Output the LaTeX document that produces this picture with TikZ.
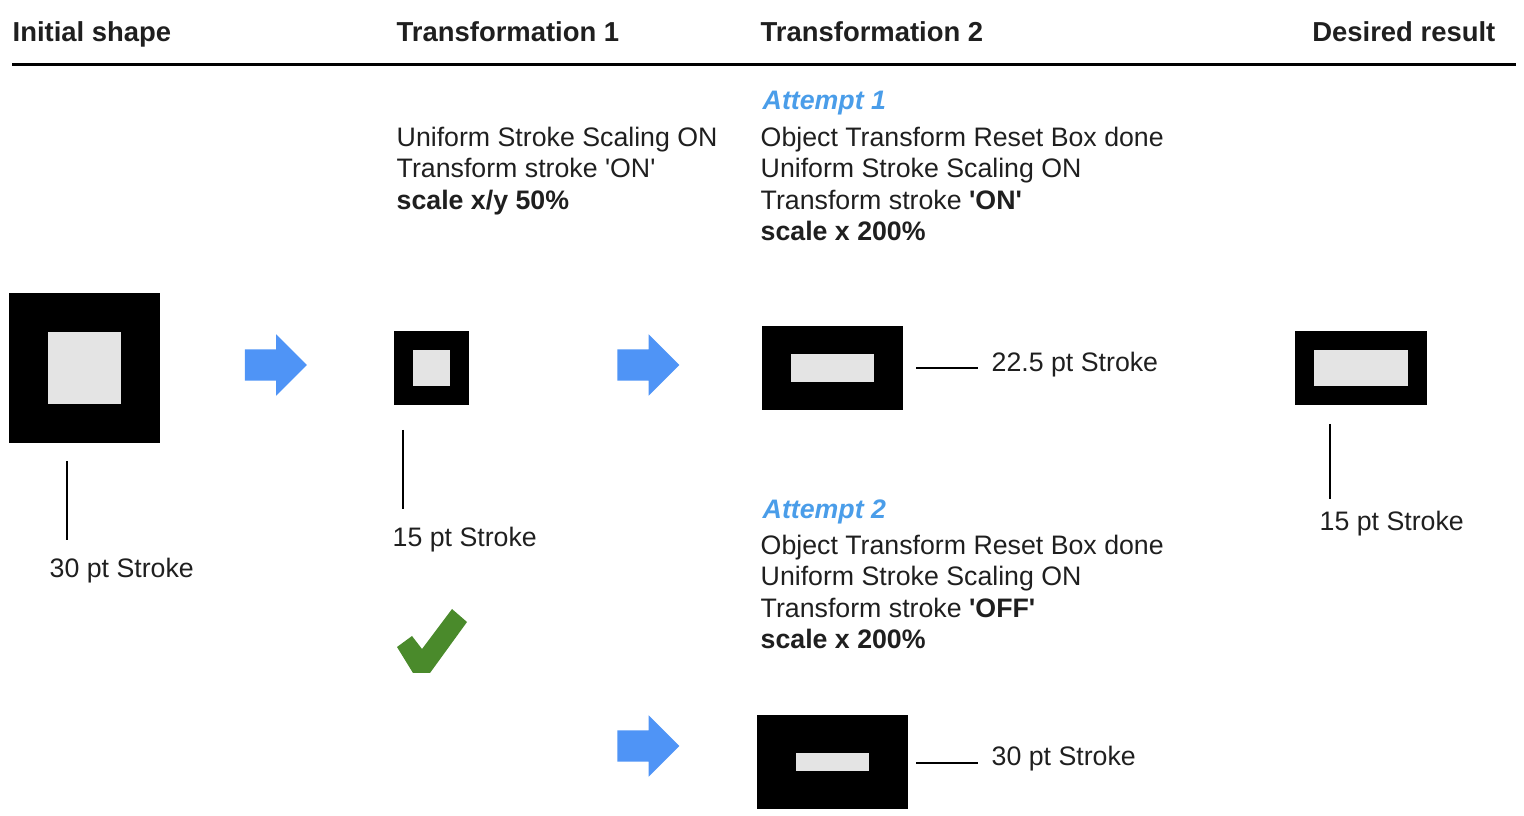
\documentclass[tikz,border=0pt]{standalone}
\usepackage{fontspec}
\setmainfont{Liberation Sans}
\usepackage{tikz}
\usetikzlibrary{shapes.arrows}

\definecolor{arrowblue}{HTML}{4F94F6}
\definecolor{attemptblue}{HTML}{4A9DE9}
\definecolor{checkgreen}{HTML}{4A8A2B}
\definecolor{holegray}{HTML}{E4E4E4}
\definecolor{ink}{HTML}{1F1F1F}

\begin{document}
\begin{tikzpicture}[
  x=0.01cm, y=-0.01cm,
  font=\fontsize{7.6}{8.96}\selectfont, text=ink,
  head/.style={font=\fontsize{7.8}{9}\selectfont\bfseries, inner sep=0pt},
  info/.style={align=left, anchor=north west, inner sep=0pt},
  tag/.style={font=\fontsize{7.6}{9}\selectfont\bfseries\itshape, text=attemptblue, anchor=base west, inner sep=0pt},
  note/.style={anchor=base west, inner sep=0pt},
  frame/.style={fill=black, inner sep=0pt},
  hole/.style={fill=holegray, inner sep=0pt},
  leader/.style={line width=0.45pt, draw=black},
  push/.style={single arrow, fill=arrowblue, inner xsep=0pt, inner ysep=0.15cm, single arrow head extend=0.15cm, minimum height=0.62cm}
]
\useasboundingbox (0,0) rectangle (1524,816);

% Column headings
\node[head, anchor=base west] (h1) at (12,42) {Initial shape};
\node[head, anchor=base west] (h2) at (396,42) {Transformation 1};
\node[head, anchor=base west] (h3) at (760,42) {Transformation 2};
\node[head, anchor=base east] (h4) at (1496,42) {Desired result};
\draw[line width=0.85pt] (12,65) -- (1516,65);

% Initial shape
\node[frame, minimum width=1.51cm, minimum height=1.50cm] (sq1) at (84.5,368) {};
\node[hole, minimum width=0.72cm, minimum height=0.72cm] (in1) at (sq1) {};
\coordinate (a1) at (67,461);
\coordinate (b1) at (67,540);
\draw[leader] (a1) -- (b1);
\node[note] (lb1) at (49,578) {30 pt Stroke};

\node[push] (ar1) at (268,365) {};

% Transformation 1
\node[info] (t1) at (396,126) {Uniform Stroke Scaling ON\\Transform stroke \textquotesingle ON\textquotesingle\\\textbf{scale x/y 50\%}};
\node[frame, minimum width=0.75cm, minimum height=0.74cm] (sq2) at (431.5,368) {};
\node[hole, minimum width=0.36cm, minimum height=0.36cm] (in2) at (sq2) {};
\coordinate (a2) at (403,430);
\coordinate (b2) at (403,509);
\draw[leader] (a2) -- (b2);
\node[note] (lb2) at (392,547) {15 pt Stroke};
\fill[checkgreen] (397,647) -- (412,636) -- (422,649) -- (452,609) -- (467,622) -- (430,673) -- (413,673) -- cycle;

\node[push] (ar2) at (640.5,365) {};
\node[push] (ar3) at (640.5,746) {};

% Transformation 2, attempt 1
\node[tag] (att1) at (762,110) {Attempt 1};
\node[info] (t2) at (760,126) {Object Transform Reset Box done\\Uniform Stroke Scaling ON\\Transform stroke \textbf{\textquotesingle ON\textquotesingle}\\\textbf{scale x 200\%}};
\node[frame, minimum width=1.41cm, minimum height=0.84cm] (sq3) at (832.5,368) {};
\node[hole, minimum width=0.83cm, minimum height=0.27cm] (in3) at (sq3) {};
\coordinate (a3) at (916,368);
\coordinate (b3) at (978,368);
\draw[leader] (a3) -- (b3);
\node[note] (lb3) at (991,372) {22.5 pt Stroke};

% Transformation 2, attempt 2
\node[tag] (att2) at (762,519) {Attempt 2};
\node[info] (t3) at (760,534) {Object Transform Reset Box done\\Uniform Stroke Scaling ON\\Transform stroke \textbf{\textquotesingle OFF\textquotesingle}\\\textbf{scale x 200\%}};
\node[frame, minimum width=1.51cm, minimum height=0.94cm] (sq4) at (832.5,762) {};
\node[hole, minimum width=0.72cm, minimum height=0.17cm] (in4) at (sq4) {};
\coordinate (a4) at (916,763);
\coordinate (b4) at (978,763);
\draw[leader] (a4) -- (b4);
\node[note] (lb4) at (991,766) {30 pt Stroke};

% Desired result
\node[frame, minimum width=1.32cm, minimum height=0.74cm] (sq5) at (1361,368) {};
\node[hole, minimum width=0.94cm, minimum height=0.36cm] (in5) at (sq5) {};
\coordinate (a5) at (1330,424);
\coordinate (b5) at (1330,499);
\draw[leader] (a5) -- (b5);
\node[note] (lb5) at (1319,531) {15 pt Stroke};
\end{tikzpicture}
\end{document}
